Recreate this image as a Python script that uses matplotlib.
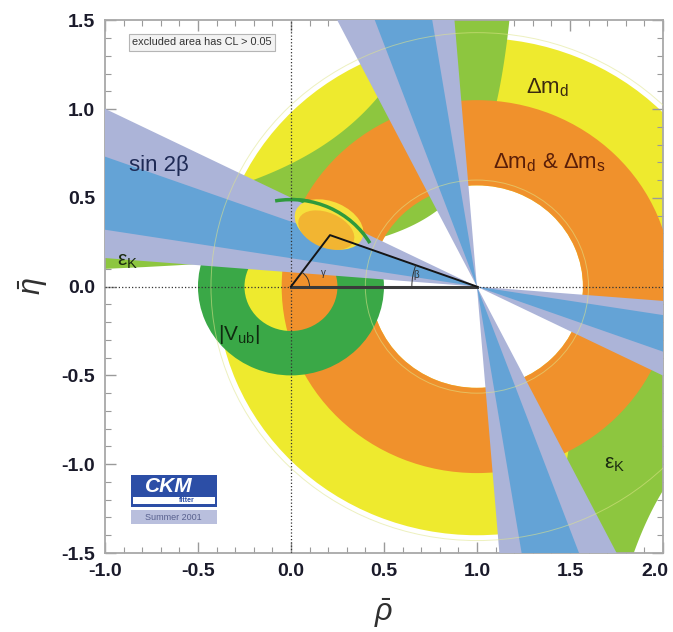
import numpy as np
import matplotlib
matplotlib.use("Agg")
import matplotlib.pyplot as plt
from matplotlib.patches import Wedge, Polygon, Ellipse, Arc, Rectangle, Circle
from matplotlib.ticker import MultipleLocator, FormatStrFormatter
from matplotlib.transforms import ScaledTranslation

plt.rcParams['font.family'] = ['Liberation Sans', 'DejaVu Sans']
plt.rcParams['mathtext.fontset'] = 'custom'
plt.rcParams['mathtext.rm'] = 'Liberation Sans'
plt.rcParams['mathtext.it'] = 'Liberation Sans:italic'
plt.rcParams['mathtext.bf'] = 'Liberation Sans:bold'
plt.rcParams['axes.unicode_minus'] = False

# ---- values ----
rho_lim = [-1.0, 2.0]
eta_lim = [-1.5, 1.5]
x_ticks = [-1.0, -0.5, 0.0, 0.5, 1.0, 1.5, 2.0]
y_ticks = [-1.5, -1.0, -0.5, 0.0, 0.5, 1.0, 1.5]

# rings: centre, inner radius, outer radius
dmd_center = (1.0, 0.0)
dmd_radii = [0.57, 1.40]          # delta m_d (yellow)
dmdms_radii = [0.57, 1.05]        # delta m_d & delta m_s (orange)
vub_center = (0.0, 0.0)
vub_radii = [0.25, 0.50]          # |Vub| (green)

# sin 2beta: angles (deg) from the -rho axis at (1, 0), two solutions
sin2b_outer = [(4.6, 26.6), (63.4, 85.4)]
sin2b_inner = [(9.1, 20.1), (69.9, 80.9)]

# eps_K band: eta * (rho0 - rho) between c_lo and c_hi
epsk_rho0 = 1.33
epsk_upper_c = [0.233, 0.92]
epsk_lower_c = [0.15, 0.77]

# global fit region (ellipses in rho/eta)
fit_out_center = (0.205, 0.35)
fit_out_axes = (0.39, 0.255)
fit_in_center = (0.19, 0.318)
fit_in_axes = (0.32, 0.195)
fit_tilt = -25

apex = (0.21, 0.29)
faint_radii = [0.60, 1.43]

c_yellow = '#eeea2e'
c_orange = '#f0912c'
c_epsk = '#8dc63f'
c_vub = '#3aa847'
c_blue = '#64a3d6'
c_gray = '#acb4d8'


def hyperbola_band(rho0, c_lo, c_hi, upper):
    # polygon between the two hyperbolas eta*(rho0-rho) = c
    eta = np.linspace(0.02, 3.0, 300)
    if not upper:
        eta = -eta
    r_lo = rho0 - c_lo / eta
    r_hi = rho0 - c_hi / eta
    xs = np.concatenate([r_lo, r_hi[::-1]])
    ys = np.concatenate([eta, eta[::-1]])
    return np.column_stack([xs, ys])


def cone(center, a1, a2, L=6.0):
    # double cone through center, angles from the -rho axis
    cx, cy = center
    t1, t2 = np.radians(a1), np.radians(a2)
    left = [(cx, cy), (cx - L * np.cos(t1), cy + L * np.sin(t1)),
            (cx - L * np.cos(t2), cy + L * np.sin(t2))]
    right = [(cx, cy), (cx + L * np.cos(t1), cy - L * np.sin(t1)),
             (cx + L * np.cos(t2), cy - L * np.sin(t2))]
    return left, right


fig = plt.figure(figsize=(6.73, 6.32), dpi=100)
ax = fig.add_axes([0.156, 0.125, 0.829, 0.843])

# delta m_d
ax.add_patch(Wedge(dmd_center, dmd_radii[1], 0, 360,
                   width=dmd_radii[1] - dmd_radii[0], fc=c_yellow, ec='none', zorder=1))
# eps_K
for c, up in [(epsk_upper_c, True), (epsk_lower_c, False)]:
    ax.add_patch(Polygon(hyperbola_band(epsk_rho0, c[0], c[1], up),
                         fc=c_epsk, ec='none', zorder=2))
# delta m_d & delta m_s
ax.add_patch(Wedge(dmd_center, dmdms_radii[1], 0, 360,
                   width=dmdms_radii[1] - dmdms_radii[0], fc=c_orange, ec='none', zorder=3))
# |Vub|
ax.add_patch(Wedge(vub_center, vub_radii[1], 0, 360,
                   width=vub_radii[1] - vub_radii[0], fc=c_vub, ec='none', zorder=4))
# sin 2beta
for a1, a2 in sin2b_outer:
    for tri in cone(dmd_center, a1, a2):
        ax.add_patch(Polygon(tri, fc=c_gray, ec='none', zorder=5))
for a1, a2 in sin2b_inner:
    for tri in cone(dmd_center, a1, a2):
        ax.add_patch(Polygon(tri, fc=c_blue, ec='none', zorder=6))

# faint contour lines
for r in faint_radii:
    ax.add_patch(Circle(dmd_center, r, fill=False, ec='#dfe58a', lw=0.7, alpha=0.55, zorder=7))

# global fit
ax.add_patch(Ellipse(fit_out_center, fit_out_axes[0], fit_out_axes[1], angle=fit_tilt,
                     fc='#f6e03c', ec='none', zorder=8))
ax.add_patch(Ellipse(fit_in_center, fit_in_axes[0], fit_in_axes[1], angle=fit_tilt,
                     fc='#f2b532', ec='none', zorder=9))
ax.add_patch(Arc(vub_center, 2 * 0.49, 2 * 0.49, theta1=30, theta2=100,
                 ec='#2f9a3c', lw=2.5, zorder=9))

# dotted axes
ax.axvline(0, color='#333333', ls=':', lw=0.9, zorder=10)
ax.axhline(0, color='#333333', ls=':', lw=0.9, zorder=10)

# unitarity triangle
ax.plot([0, 1], [0, 0], color='#3a3a3a', lw=2.2, zorder=11)
ax.plot([0, apex[0], 1], [0, apex[1], 0], color='#151515', lw=1.4, zorder=11)
ax.add_patch(Arc((0, 0), 0.2, 0.2, theta1=0, theta2=54, ec='#333333', lw=0.7, zorder=11))
ax.add_patch(Arc((1, 0), 0.7, 0.7, theta1=160, theta2=180, ec='#333333', lw=0.7, zorder=11))
ax.text(0.16, 0.06, 'γ', fontsize=7, color='#333333', zorder=12)
ax.text(0.66, 0.05, 'β', fontsize=7, color='#333333', zorder=12)

# labels
ax.text(1.38, 1.12, r'$\mathrm{\Delta m_d}$', fontsize=16, color='#3b2a10',
        ha='center', va='center', zorder=12)
ax.text(1.39, 0.70, r'$\mathrm{\Delta m_d}$ & $\mathrm{\Delta m_s}$', fontsize=16,
        color='#5a1e08', ha='center', va='center', zorder=12)
ax.text(-0.71, 0.68, 'sin 2β', fontsize=16, color='#1e2a55',
        ha='center', va='center', zorder=12)
ax.text(-0.88, 0.14, r'ε$_\mathrm{K}$', fontsize=15, color='#1a2a10',
        ha='center', va='center', zorder=12)
ax.text(1.74, -1.0, r'ε$_\mathrm{K}$', fontsize=15, color='#1a2a10',
        ha='center', va='center', zorder=12)
ax.text(-0.28, -0.27, r'|V$_\mathrm{ub}$|', fontsize=15, color='#102a10',
        ha='center', va='center', zorder=12)
ax.text(-0.48, 1.375, 'excluded area has CL > 0.05', fontsize=7.8, color='#333333',
        ha='center', va='center', zorder=12,
        bbox=dict(boxstyle='square,pad=0.3', fc='#f3f3f3', ec='#b5b5b5', lw=0.8))

# CKMfitter logo
ax.add_patch(Rectangle((-0.86, -1.24), 0.46, 0.18, fc='#2c4ea6', ec='none', zorder=12))
ax.add_patch(Rectangle((-0.85, -1.225), 0.44, 0.04, fc='white', ec='none', zorder=13))
ax.add_patch(Rectangle((-0.86, -1.335), 0.46, 0.075, fc='#b9bfdd', ec='none', zorder=12))
ax.text(-0.655, -1.128, 'CKM', fontsize=15, fontweight='bold', style='italic', color='white',
        ha='center', va='center', zorder=14)
ax.text(-0.56, -1.205, 'fitter', fontsize=5, fontweight='bold', color='#2c4ea6',
        ha='center', va='center', zorder=14)
ax.text(-0.63, -1.298, 'Summer 2001', fontsize=6.5, color='#58608e',
        ha='center', va='center', zorder=14)

ax.set_xlim(rho_lim)
ax.set_ylim(eta_lim)
ax.set_xticks(x_ticks)
ax.set_yticks(y_ticks)
ax.xaxis.set_minor_locator(MultipleLocator(0.1))
ax.yaxis.set_minor_locator(MultipleLocator(0.1))
ax.xaxis.set_major_formatter(FormatStrFormatter('%.1f'))
ax.yaxis.set_major_formatter(FormatStrFormatter('%.1f'))
ax.tick_params(which='both', direction='in', top=True, right=True, color='#9a9a9a')
ax.tick_params(which='major', length=8, width=1.0, labelsize=14, pad=7,
               labelcolor='#1a1a2a')
ax.tick_params(which='minor', length=4, width=0.8)
for lab in ax.get_xticklabels() + ax.get_yticklabels():
    lab.set_fontweight('bold')
# last x label sits on the figure edge, nudge it in
last = ax.get_xticklabels()[-1]
last.set_transform(last.get_transform() + ScaledTranslation(-6 / 72, 0, fig.dpi_scale_trans))
for s in ax.spines.values():
    s.set_color('#a8a8a8')
    s.set_linewidth(1.3)

ax.set_xlabel(r'$\bar{\rho}$', fontsize=22, color='#303030', labelpad=12)
ax.set_ylabel(r'$\bar{\eta}$', fontsize=22, color='#303030', labelpad=8)

fig.savefig('out.png', dpi=100, facecolor='white')
